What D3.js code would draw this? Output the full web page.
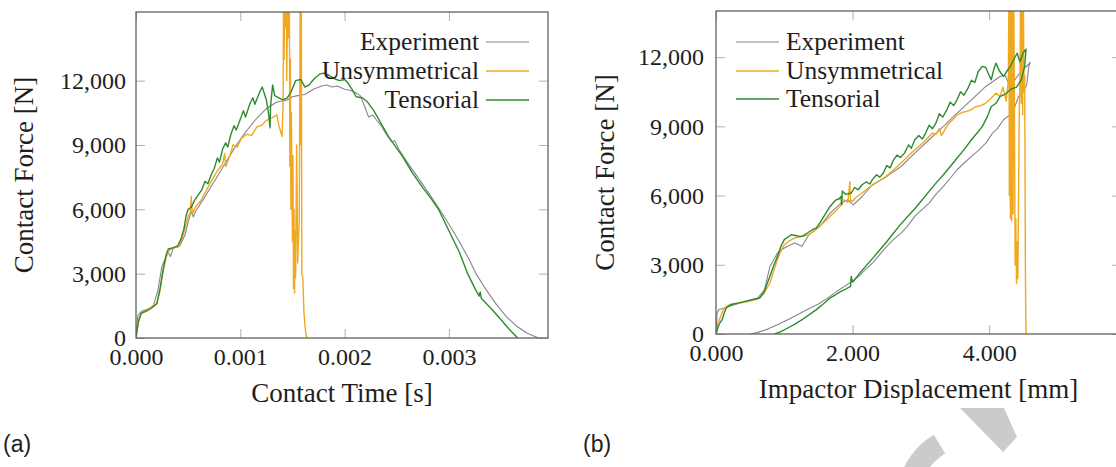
<!DOCTYPE html>
<html>
<head>
<meta charset="utf-8">
<script src="https://cdn.jsdelivr.net/npm/d3@7/dist/d3.min.js"></script>
<style>
body { margin: 0; background: #fff; }
svg text { font-family: "Liberation Serif", "Times New Roman", serif; fill: #1e1e1e; }
</style>
</head>
<body>
<script>

// (a) contact force vs contact time, time in ms, force in N
var timeExperiment = [
	[0,0],[0.017,1060],[0.058,1260],[0.127,1370],[0.168,1525],[0.21,2225],[0.247,3310],
	[0.28,3700],[0.31,4000],[0.33,3800],[0.36,4200],[0.42,4300],[0.47,4800],[0.5,5400],
	[0.53,5900],[0.55,5650],[0.57,5900],[0.65,6500],[0.75,7300],[0.85,8100],[0.95,8900],
	[1.05,9600],[1.15,10200],[1.25,10700],[1.35,11000],[1.45,11100],[1.5,11250],[1.55,11300],
	[1.62,11350],[1.7,11600],[1.78,11750],[1.83,11800],[1.88,11700],[1.93,11750],[2.0,11600],
	[2.05,11550],[2.1,11450],[2.15,11300],[2.2,10700],[2.23,10300],[2.27,10400],[2.3,10200],
	[2.35,9900],[2.4,9500],[2.45,9150],[2.48,9200],[2.52,8800],[2.6,8200],[2.7,7500],
	[2.8,6800],[2.91,6000],[3.0,5300],[3.1,4500],[3.2,3600],[3.26,3000],[3.35,2300],
	[3.45,1600],[3.55,1000],[3.65,550],[3.75,220],[3.86,0]];

var timeUnsymmetrical = [
	[0,0],[0.03,950],[0.06,1200],[0.1,1300],[0.15,1450],[0.2,1600],[0.23,2200],[0.26,3100],
	[0.29,3800],[0.32,4100],[0.36,4200],[0.41,4250],[0.44,4600],[0.47,5100],[0.5,5700],
	[0.52,5800],[0.53,6600],[0.54,5800],[0.57,6100],[0.62,6400],[0.71,7200],[0.78,7800],
	[0.83,8100],[0.85,8600],[0.86,8000],[0.9,8500],[0.93,9000],[0.97,8900],[1.01,9300],
	[1.06,9500],[1.11,9450],[1.16,9850],[1.2,9900],[1.25,10150],[1.3,10250],[1.35,10400],
	[1.37,9900],[1.4,9400],[1.41,10800],[1.415,16500],[1.42,13000],[1.425,16500],
	[1.43,14500],[1.44,16500],[1.445,12000],[1.455,16500],[1.46,14000],[1.47,16500],
	[1.475,8000],[1.48,13000],[1.485,6000],[1.49,10500],[1.5,4500],[1.505,8500],[1.51,2300],
	[1.515,6000],[1.52,2100],[1.525,5000],[1.53,2800],[1.54,9000],[1.55,3500],[1.565,5500],
	[1.575,16500],[1.58,9000],[1.585,16500],[1.59,3000],[1.6,2800],[1.61,1200],[1.62,600],
	[1.63,150],[1.64,0]];

var timeTensorial = [
	[0,0],[0.02,700],[0.05,1150],[0.1,1250],[0.15,1400],[0.2,1600],[0.23,2300],[0.26,3200],
	[0.29,3900],[0.31,4150],[0.35,4200],[0.4,4300],[0.43,4600],[0.46,5100],[0.48,5700],
	[0.5,6000],[0.53,6100],[0.56,6400],[0.6,6700],[0.63,6900],[0.66,7300],[0.69,7200],
	[0.72,7600],[0.75,7900],[0.78,8400],[0.8,8200],[0.83,8800],[0.86,9100],[0.88,8900],
	[0.91,9500],[0.94,9900],[0.96,9700],[1.0,10200],[1.03,10600],[1.05,10300],[1.09,10900],
	[1.12,11200],[1.14,10900],[1.18,11400],[1.21,11700],[1.23,11400],[1.25,11100],
	[1.27,10500],[1.285,9800],[1.29,10800],[1.31,11800],[1.33,11300],[1.37,11200],
	[1.41,11100],[1.45,11200],[1.49,11500],[1.53,12000],[1.58,12050],[1.62,11700],
	[1.66,11800],[1.71,12100],[1.76,12300],[1.8,12350],[1.85,12250],[1.9,12100],[1.95,12000],
	[2.0,12050],[2.03,11900],[2.07,11600],[2.11,11250],[2.17,11200],[2.22,11000],[2.28,10600],
	[2.35,10000],[2.42,9400],[2.47,9050],[2.55,8500],[2.65,7700],[2.75,7000],[2.83,6500],
	[2.9,6000],[3.0,5000],[3.1,4000],[3.18,3000],[3.25,2300],[3.29,1950],[3.3,2150],
	[3.31,1850],[3.4,1400],[3.5,850],[3.58,400],[3.66,0]];

// (b) contact force vs impactor displacement, displacement in mm, force in N
var dispExperiment = [
	[0,0],[0.016,910],[0.04,1054],[0.12,1126],[0.27,1270],[0.43,1415],[0.61,1560],[0.71,1920],
	[0.79,2930],[0.9,3510],[1.0,3725],[1.15,3940],[1.26,3800],[1.36,4300],[1.52,4660],
	[1.67,5240],[1.83,5675],[1.93,5820],[2.01,5600],[2.14,5960],[2.29,6470],[2.5,6830],
	[2.71,7260],[2.91,7840],[3.12,8420],[3.33,9000],[3.53,9570],[3.74,10150],[3.95,10730],
	[4.16,11160],[4.23,11230],[4.31,10730],[4.41,11160],[4.49,11450],[4.57,11670],[4.6,11770],
	[4.58,11600],[4.55,10800],[4.49,10440],[4.43,10300],[4.36,9720],[4.3,9500],[4.21,9285],
	[4.12,8900],[4.05,8710],[3.95,8275],[3.84,7950],[3.74,7700],[3.63,7400],[3.53,7120],
	[3.43,6750],[3.33,6400],[3.22,6050],[3.12,5675],[3.02,5400],[2.91,5100],[2.81,4700],
	[2.71,4375],[2.6,4100],[2.5,3800],[2.4,3450],[2.29,3075],[2.19,2800],[2.09,2500],
	[1.98,2250],[1.88,2065],[1.77,1850],[1.67,1630],[1.5,1300],[1.33,1050],[1.2,850],
	[1.05,620],[0.9,400],[0.74,190],[0.6,60],[0.5,0]];

var dispUnsymmetrical = [
	[0,0],[0.03,500],[0.07,765],[0.1,1000],[0.15,1200],[0.22,1300],[0.33,1340],[0.45,1400],
	[0.6,1500],[0.7,1750],[0.79,2210],[0.85,2800],[0.9,3220],[0.95,3600],[1.0,3870],
	[1.08,4050],[1.15,4160],[1.25,4220],[1.36,4300],[1.45,4500],[1.57,4810],[1.67,5100],
	[1.77,5390],[1.85,5650],[1.88,5820],[1.93,5700],[1.96,6600],[1.97,5800],[2.0,5750],
	[2.06,5950],[2.14,6110],[2.24,6350],[2.34,6540],[2.45,6750],[2.55,6975],[2.65,7250],
	[2.76,7550],[2.86,7850],[2.97,8130],[3.07,8400],[3.17,8710],[3.22,8650],[3.27,8900],
	[3.3,8600],[3.33,8750],[3.4,9100],[3.47,9300],[3.53,9500],[3.6,9600],[3.67,9650],
	[3.74,9720],[3.8,9850],[3.88,9900],[3.95,10010],[4.02,10200],[4.1,10440],[4.16,10300],
	[4.2,10700],[4.25,10100],[4.28,11000],[4.29,15000],[4.295,6000],[4.3,15000],[4.31,5000],
	[4.32,15000],[4.33,4900],[4.34,15000],[4.35,5200],[4.36,15000],[4.37,9500],[4.38,3000],
	[4.39,5000],[4.4,2200],[4.41,4000],[4.42,2400],[4.44,9500],[4.45,11000],[4.46,15000],
	[4.47,10000],[4.48,15000],[4.49,9500],[4.5,15000],[4.51,10500],[4.52,11200],[4.53,3000],
	[4.535,1000],[4.54,0]];

var dispTensorial = [
	[0,0],[0.03,300],[0.06,500],[0.09,620],[0.12,900],[0.15,1126],[0.22,1270],[0.3,1330],
	[0.43,1415],[0.55,1500],[0.64,1560],[0.7,1800],[0.79,2500],[0.85,3000],[0.9,3365],
	[0.95,3800],[1.0,4090],[1.1,4300],[1.2,4250],[1.26,4230],[1.35,4400],[1.41,4520],
	[1.47,4600],[1.52,4810],[1.6,5200],[1.67,5530],[1.75,5800],[1.8,5850],[1.83,5960],
	[1.84,5600],[1.85,6200],[1.9,6050],[1.98,6110],[2.03,6350],[2.08,6250],[2.14,6470],
	[2.2,6600],[2.25,6500],[2.29,6690],[2.35,6900],[2.4,6800],[2.45,6975],[2.5,7300],
	[2.55,7200],[2.6,7550],[2.65,7750],[2.7,7650],[2.76,7840],[2.82,8200],[2.86,8050],
	[2.91,8420],[2.97,8600],[3.02,8450],[3.07,8710],[3.12,9050],[3.17,8900],[3.22,9140],
	[3.27,9550],[3.32,9400],[3.38,9720],[3.43,10050],[3.48,9900],[3.53,10150],[3.58,10500],
	[3.63,10350],[3.69,10660],[3.74,11000],[3.79,10900],[3.84,11380],[3.9,11600],[3.95,11550],
	[4.0,11200],[4.03,11020],[4.07,11500],[4.1,11740],[4.15,11400],[4.21,11160],[4.26,11400],
	[4.31,11600],[4.36,11900],[4.41,12170],[4.45,11800],[4.5,12200],[4.54,12350],
	[4.52,11600],[4.47,11020],[4.4,10700],[4.31,10600],[4.24,10400],[4.16,10300],[4.1,10000],
	[4.03,9860],[3.97,9400],[3.9,9000],[3.82,8700],[3.74,8420],[3.66,8100],[3.59,7840],
	[3.51,7550],[3.43,7260],[3.33,6900],[3.22,6540],[3.12,6180],[3.02,5820],[2.92,5460],
	[2.81,5100],[2.7,4740],[2.6,4375],[2.5,4000],[2.4,3650],[2.3,3300],[2.19,2930],
	[2.1,2620],[2.03,2350],[2.0,2250],[1.98,2500],[1.97,2065],[1.9,1950],[1.83,1850],
	[1.75,1700],[1.67,1560],[1.57,1300],[1.47,1055],[1.36,830],[1.26,620],[1.15,420],
	[1.05,260],[0.95,100],[0.86,0]];

var seriesNames = ["Experiment", "Unsymmetrical", "Tensorial"],
	seriesColors = ["#85858c", "#f0a820", "#2f8a2f"],
	forceTicks = [0, 3000, 6000, 9000, 12000],
	timeTicks = [0, 1, 2, 3],
	dispTicks = [0, 2, 4],
	tickLen = 9;

var svg = d3.select("body")
	.append("svg")
	.attr("width", 1116)
	.attr("height", 467);

function drawPanel(p) {
	var x = d3.scaleLinear().domain(p.xDomain).range([p.left, p.right]),
		y = d3.scaleLinear().domain(p.yDomain).range([p.bottom, p.top]),
		g = svg.append("g");

	g.append("clipPath").attr("id", "clip-" + p.id)
		.append("rect")
		.attr("x", p.left).attr("y", p.top)
		.attr("width", p.right - p.left).attr("height", p.bottom - p.top);

	// inner ticks on all four sides, pgfplots style
	var axes = [
		[d3.axisBottom(x).tickValues(p.xTicks).tickFormat(p.xFormat).tickPadding(10), "translate(0," + p.bottom + ")"],
		[d3.axisTop(x).tickValues(p.xTicks).tickFormat(""), "translate(0," + p.top + ")"],
		[d3.axisLeft(y).tickValues(forceTicks).tickFormat(d3.format(",")).tickPadding(p.yPad), "translate(" + p.left + ",0)"],
		[d3.axisRight(y).tickValues(forceTicks).tickFormat(""), "translate(" + p.right + ",0)"]
	];
	axes.forEach(function(a) {
		var ax = g.append("g")
			.attr("transform", a[1])
			.call(a[0].tickSizeInner(-tickLen).tickSizeOuter(0));
		ax.select(".domain").remove();
		ax.selectAll(".tick line").attr("stroke", "#b0b0b0").attr("stroke-width", 1);
		ax.selectAll(".tick text")
			.attr("fill", "#1e1e1e")
			.style("font-family", "'Liberation Serif', serif")
			.style("font-size", "24px");
	});

	var line = d3.line()
		.x(function(d) { return x(d[0]); })
		.y(function(d) { return y(d[1]); });

	var lines = g.append("g").attr("clip-path", "url(#clip-" + p.id + ")");
	p.series.forEach(function(s, i) {
		lines.append("path")
			.datum(s)
			.attr("d", line)
			.attr("fill", "none")
			.attr("stroke", seriesColors[i])
			.attr("stroke-width", i == 0 ? 1.1 : 1.4)
			.attr("stroke-linejoin", "round");
	});

	g.append("rect")
		.attr("x", p.left).attr("y", p.top)
		.attr("width", p.right - p.left).attr("height", p.bottom - p.top)
		.attr("fill", "none")
		.attr("stroke", "#606060")
		.attr("stroke-width", 1.3);

	// legend
	for (var i = 0; i < seriesNames.length; i++) {
		var ly = p.legendY[i];
		g.append("line")
			.attr("x1", p.legendLine[0]).attr("x2", p.legendLine[1])
			.attr("y1", ly).attr("y2", ly)
			.attr("stroke", seriesColors[i])
			.attr("stroke-width", i == 0 ? 1.1 : 1.4);
		g.append("text")
			.attr("x", p.legendText)
			.attr("y", ly + 8)
			.attr("text-anchor", p.legendAnchor)
			.style("font-size", "25.5px")
			.text(seriesNames[i]);
	}

	g.append("text")
		.attr("x", (p.left + p.right) / 2)
		.attr("y", p.xLabelY)
		.attr("text-anchor", "middle")
		.style("font-size", "27px")
		.text(p.xLabel);

	g.append("text")
		.attr("transform", "translate(" + p.yLabelX + "," + (p.top + p.bottom) / 2 + ") rotate(-90)")
		.attr("text-anchor", "middle")
		.style("font-size", "27px")
		.text("Contact Force [N]");

	g.append("text")
		.attr("x", p.tagX)
		.attr("y", 452)
		.style("font-family", "'Liberation Sans', Arial, sans-serif")
		.style("font-size", "23px")
		.text(p.tag);
}

drawPanel({
	id: "a",
	left: 136, right: 548, top: 12, bottom: 338,
	xDomain: [0, 3.95], yDomain: [0, 15200],
	xTicks: timeTicks,
	xFormat: function(d) { return d3.format(".3f")(d / 1000); },
	yPad: 10,
	series: [timeExperiment, timeUnsymmetrical, timeTensorial],
	legendY: [42, 71, 100],
	legendLine: [486, 529],
	legendText: 479,
	legendAnchor: "end",
	xLabel: "Contact Time [s]",
	xLabelY: 402,
	yLabelX: 33,
	tag: "(a)", tagX: 3
});

drawPanel({
	id: "b",
	left: 716, right: 1121, top: 11, bottom: 334,
	xDomain: [0, 5.93], yDomain: [0, 14000],
	xTicks: dispTicks,
	xFormat: d3.format(".3f"),
	yPad: 12,
	series: [dispExperiment, dispUnsymmetrical, dispTensorial],
	legendY: [42, 71, 99],
	legendLine: [736, 779],
	legendText: 786,
	legendAnchor: "start",
	xLabel: "Impactor Displacement [mm]",
	xLabelY: 398,
	yLabelX: 614,
	tag: "(b)", tagX: 583
});

// faint watermark fragment at the bottom
svg.append("path")
	.attr("d", "M960,408 L1004,408 L1017,437 L1003,452 Z")
	.attr("fill", "#cbcbcb");
svg.append("path")
	.attr("d", d3.arc()({innerRadius: 57, outerRadius: 79, startAngle: -0.55, endAngle: -2.1}))
	.attr("transform", "translate(975,502)")
	.attr("fill", "#cbcbcb");

</script>
</body>
</html>
